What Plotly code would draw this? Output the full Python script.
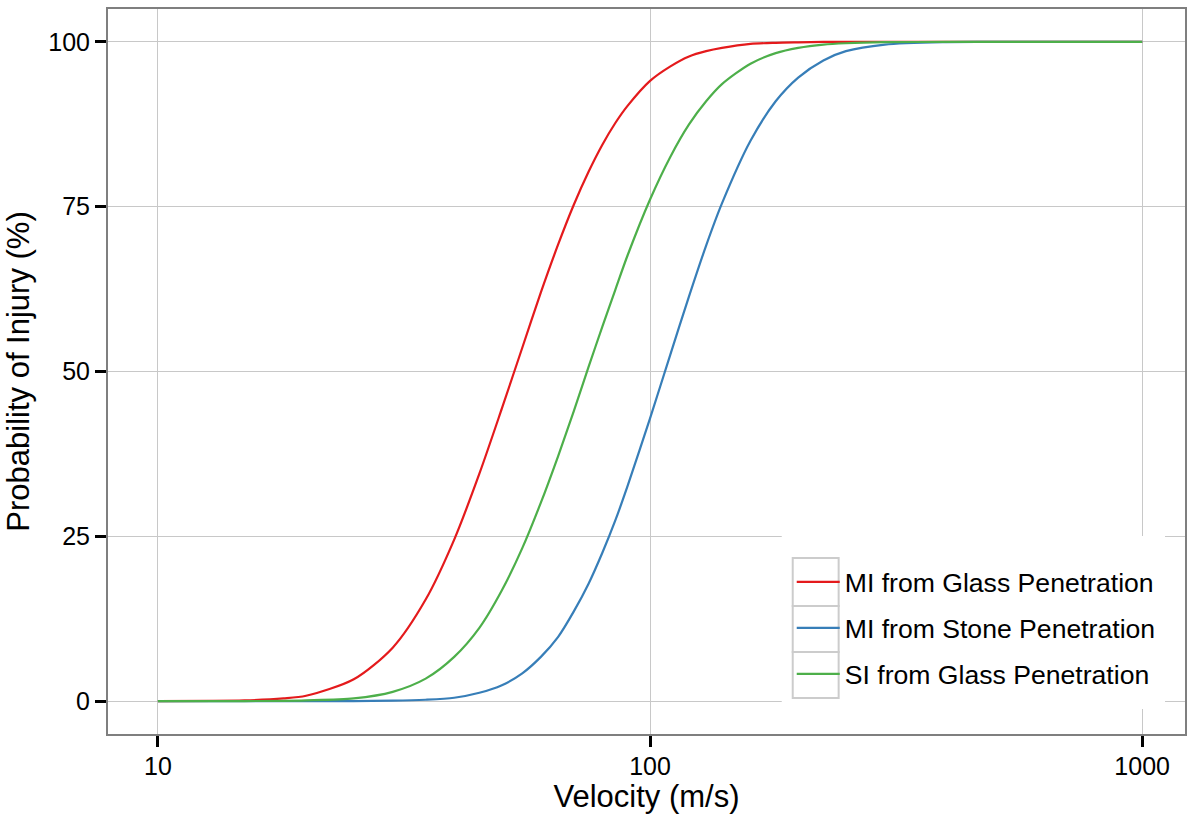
import plotly.graph_objects as go

velocity = [10, 15, 18, 20, 25, 30, 35, 40, 45, 50, 55, 60, 65, 70, 75, 80, 85, 90, 100,
            110, 120, 130, 140, 160, 180, 200, 225, 250, 300, 400, 500, 1000]
mi_glass = [0.0, 0.1, 0.4, 0.8, 3.3, 8.1, 15.4, 24.5, 34.5, 44.4, 53.6, 62.0, 69.2, 75.3, 80.3, 84.4, 87.7, 90.3, 94.1,
            96.3, 97.8, 98.6, 99.1, 99.7, 99.87, 99.94, 100.0, 100.0, 100.0, 100.0, 100.0, 100.0]
mi_stone = [0.0, 0.0, 0.0, 0.0, 0.0, 0.05, 0.2, 0.5, 1.25, 2.4, 4.2, 6.7, 9.7, 13.6, 17.8, 22.5, 27.4, 32.6, 42.9,
            52.6, 61.4, 69.1, 75.5, 85.0, 91.0, 94.6, 97.2, 98.6, 99.6, 99.97, 100.0, 100.0]
si_glass = [0.0, 0.0, 0.03, 0.1, 0.4, 1.4, 3.4, 6.7, 11.1, 16.8, 23.2, 30.1, 37.1, 44.0, 50.7, 56.8, 62.4, 67.6, 76.1,
            82.6, 87.5, 91.0, 93.6, 96.7, 98.3, 99.1, 99.6, 99.8, 99.96, 100.0, 100.0, 100.0]

series = [
    ("MI from Glass Penetration", mi_glass, "#E41A1C"),
    ("MI from Stone Penetration", mi_stone, "#377EB8"),
    ("SI from Glass Penetration", si_glass, "#4DAF4A"),
]

legend_ids = ["legend", "legend2", "legend3"]
fig = go.Figure()
for (name, vals, col), lid in zip(series, legend_ids):
    fig.add_trace(go.Scatter(x=velocity, y=vals, mode="lines", name=name, legend=lid,
                             showlegend=True,
                             line=dict(color=col, width=2.2, shape="spline", smoothing=0.8)))

font = "Liberation Sans, Arial, sans-serif"
W, H = 1187, 814
L, R, T, B = 108, 0, 9, 80
pw, ph = W - L - R, H - T - B


def px_x(p):
    return (p - L) / pw


def px_y(p):
    return (H - B - p) / ph


legend_centers = [582, 628, 674]
legends = {}
for lid, cy in zip(legend_ids, legend_centers):
    legends[lid] = dict(x=px_x(793), y=px_y(cy), xanchor="left", yanchor="middle",
                        bgcolor="rgba(0,0,0,0)", borderwidth=0, itemwidth=43,
                        font=dict(size=26.6, family=font, color="black"))

shapes = [dict(type="rect", xref="paper", yref="paper",
               x0=px_x(783), x1=px_x(1167), y0=px_y(709), y1=px_y(536),
               fillcolor="white", line=dict(width=0), layer="above")]
box_edges = [558, 606, 652, 698]
for i in range(3):
    shapes.append(dict(type="rect", xref="paper", yref="paper",
                       x0=px_x(794), x1=px_x(840), y0=px_y(box_edges[i + 1]), y1=px_y(box_edges[i]),
                       fillcolor="rgba(0,0,0,0)", line=dict(color="#cccccc", width=2), layer="above"))

fig.update_layout(
    width=W, height=H,
    margin=dict(l=L, r=R, t=T, b=B),
    plot_bgcolor="white", paper_bgcolor="white",
    font=dict(family=font, color="black"),
    showlegend=True,
    shapes=shapes,
    **legends,
)
fig.update_xaxes(type="log", range=[0.8986, 3.087],
                 tickvals=[10, 100, 1000], ticktext=["10", "100", "1000"],
                 showgrid=True, gridcolor="#c8c8c8", gridwidth=1,
                 showline=True, linecolor="#7f7f7f", linewidth=2, mirror=True,
                 ticks="outside", ticklen=11, tickwidth=2.5, tickcolor="black",
                 tickfont=dict(size=25), ticklabelstandoff=-2, zeroline=False,
                 title=dict(text="Velocity (m/s)", font=dict(size=31), standoff=6))
fig.update_yaxes(range=[-5, 105], tickvals=[0, 25, 50, 75, 100],
                 showgrid=True, gridcolor="#c8c8c8", gridwidth=1,
                 showline=True, linecolor="#7f7f7f", linewidth=2, mirror=True,
                 ticks="outside", ticklen=11, tickwidth=2.5, tickcolor="black",
                 tickfont=dict(size=25), zeroline=False,
                 title=dict(text="Probability of Injury (%)", font=dict(size=31), standoff=9))

fig.write_html("out.html")
